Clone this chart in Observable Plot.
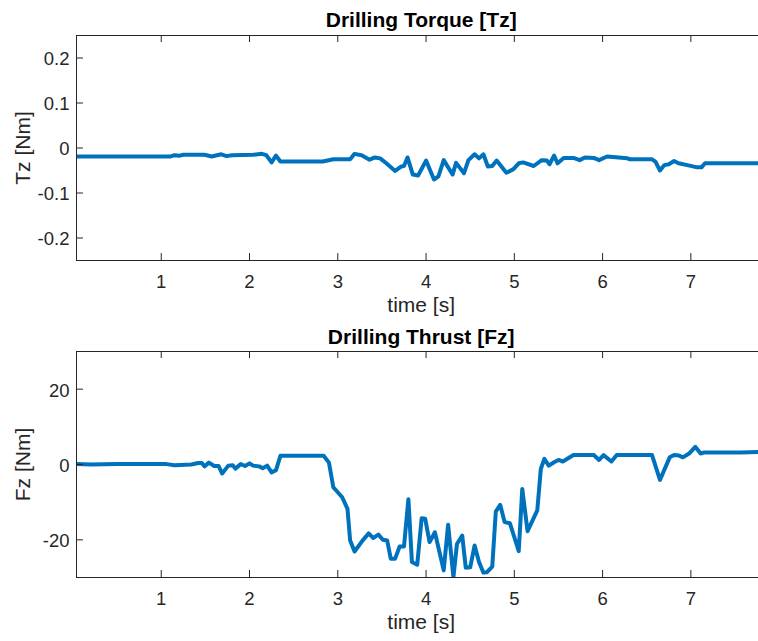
<!DOCTYPE html>
<html>
<head>
<meta charset="utf-8">
<script src="https://cdn.jsdelivr.net/npm/d3@7"></script>
<script src="https://cdn.jsdelivr.net/npm/@observablehq/plot@0.6"></script>
<style>
  html, body { margin: 0; padding: 0; background: #fff; overflow: hidden; width: 758px; height: 641px; }
  #chart { width: 766px; }
  #chart svg { display: block; max-width: none !important; }
</style>
</head>
<body>
<div id="chart"></div>
<script>
const torqueTitle = "Drilling Torque [Tz]";
const thrustTitle = "Drilling Thrust [Fz]";
const xLabel = "time [s]";
const torqueLabel = "Tz [Nm]";
const thrustLabel = "Fz [Nm]";

const xTicks = [1, 2, 3, 4, 5, 6, 7];
const xDomain = [0.04, 7.85];
const torqueTicks = [-0.2, -0.1, 0, 0.1, 0.2];
const torqueDomain = [-0.25, 0.25];
const thrustTicks = [-20, 0, 20];
const thrustDomain = [-30, 30];

const torqueTime = [0.04,1.10,1.15,1.21,1.25,1.49,1.57,1.68,1.74,1.80,2.04,2.14,2.19,2.25,2.30,2.35,2.83,2.95,3.14,3.19,3.27,3.36,3.42,3.48,3.55,3.65,3.72,3.75,3.79,3.85,3.91,4.00,4.09,4.14,4.20,4.30,4.34,4.43,4.48,4.55,4.60,4.65,4.70,4.75,4.80,4.91,4.99,5.05,5.10,5.22,5.31,5.37,5.40,5.45,5.49,5.56,5.67,5.74,5.80,5.90,5.96,6.05,6.28,6.31,6.56,6.60,6.65,6.70,6.75,6.81,6.86,6.96,7.07,7.12,7.16,7.85];
const torqueValues = [-0.019,-0.019,-0.016,-0.017,-0.015,-0.015,-0.019,-0.014,-0.018,-0.016,-0.015,-0.013,-0.016,-0.032,-0.017,-0.030,-0.030,-0.025,-0.025,-0.013,-0.016,-0.026,-0.021,-0.023,-0.034,-0.051,-0.041,-0.040,-0.021,-0.059,-0.061,-0.028,-0.070,-0.063,-0.027,-0.059,-0.033,-0.056,-0.027,-0.014,-0.023,-0.014,-0.041,-0.040,-0.028,-0.055,-0.047,-0.034,-0.032,-0.040,-0.027,-0.028,-0.036,-0.017,-0.034,-0.022,-0.022,-0.027,-0.021,-0.022,-0.027,-0.019,-0.023,-0.025,-0.025,-0.031,-0.050,-0.038,-0.036,-0.029,-0.034,-0.038,-0.043,-0.043,-0.034,-0.034];

const thrustTime = [0.04,0.20,0.50,1.06,1.15,1.34,1.42,1.46,1.49,1.54,1.60,1.65,1.69,1.76,1.81,1.84,1.90,1.95,2.00,2.04,2.11,2.15,2.20,2.25,2.30,2.35,2.84,2.90,2.95,2.99,3.05,3.11,3.14,3.19,3.28,3.35,3.40,3.46,3.51,3.56,3.60,3.65,3.70,3.75,3.80,3.84,3.90,3.95,3.99,4.04,4.10,4.20,4.25,4.31,4.35,4.41,4.45,4.50,4.55,4.60,4.65,4.69,4.75,4.79,4.84,4.89,4.95,5.05,5.09,5.15,5.26,5.30,5.34,5.39,5.45,5.50,5.55,5.67,5.90,5.96,6.01,6.10,6.16,6.56,6.65,6.76,6.81,6.86,6.91,6.98,7.05,7.11,7.15,7.56,7.85];
const thrustValues = [0.1,0.0,0.1,0.1,-0.2,0.0,0.4,0.4,-0.5,0.5,-0.4,-0.4,-2.4,-0.3,-0.2,-1.1,0.1,-0.4,0.3,-0.3,-0.5,-1.0,-0.3,-2.1,-1.5,2.3,2.3,0.5,-6.1,-7.1,-8.7,-11.8,-20.2,-23.1,-20.2,-18.3,-19.5,-18.6,-20.0,-20.2,-25.0,-25.0,-21.8,-21.8,-9.2,-25.9,-26.6,-14.3,-14.4,-20.6,-18.0,-28.1,-16.0,-29.9,-21.1,-18.9,-27.4,-27.3,-21.5,-25.9,-28.7,-28.6,-27.1,-12.5,-10.7,-15.3,-15.6,-23.0,-6.5,-17.7,-12.2,-1.2,1.5,-0.3,0.6,1.2,0.8,2.5,2.5,1.2,2.5,0.8,2.5,2.5,-4.1,1.9,2.5,2.4,1.9,2.9,4.7,2.9,3.2,3.2,3.4];

const lineColor = "#0072BD";
const axisColor = "#262626";
const fontFamily = "'Liberation Sans', Arial, Helvetica, sans-serif";
const fmt = d => String(d);

function panel({time, values, yTicks, yDomain, title, yLabel, height, marginTop, marginBottom, titleDy, xLabelDy}) {
  const width = 766, marginLeft = 76, marginRight = 0.6;
  const frameW = width - marginLeft - marginRight;
  const frameH = height - marginTop - marginBottom;
  const tickLen = 7;
  const data = time.map((t, i) => ({t, v: values[i]}));
  return Plot.plot({
    width, height, marginLeft, marginRight, marginTop, marginBottom,
    style: {fontFamily, fontSize: "18px", background: "white", color: axisColor, overflow: "visible", maxWidth: "none"},
    x: {domain: xDomain, label: null},
    y: {domain: yDomain, label: null},
    marks: [
      Plot.line(data, {x: "t", y: "v", stroke: lineColor, strokeWidth: 4, strokeLinejoin: "round", strokeLinecap: "round", clip: true}),
      Plot.ruleX(xTicks, {x: d => d, insetTop: frameH - tickLen, stroke: axisColor}),
      Plot.ruleX(xTicks, {x: d => d, insetBottom: frameH - tickLen, stroke: axisColor}),
      Plot.ruleY(yTicks, {y: d => d, insetRight: frameW - tickLen, stroke: axisColor}),
      Plot.ruleY(yTicks, {y: d => d, insetLeft: frameW - tickLen, stroke: axisColor}),
      Plot.frame({stroke: axisColor, strokeWidth: 1}),
      Plot.axisX({ticks: xTicks, tickSize: 0, tickPadding: 14, tickFormat: fmt, label: null, color: axisColor, fontSize: 18.5}),
      Plot.axisY({ticks: yTicks, tickSize: 0, tickPadding: 7, tickFormat: fmt, label: null, color: axisColor, fontSize: 18.5, dy: 1.5}),
      Plot.text([title], {text: d => d, frameAnchor: "top", lineAnchor: "bottom", dy: titleDy, fontWeight: "bold", fontSize: 21, fill: "#000"}),
      Plot.text([xLabel], {text: d => d, frameAnchor: "bottom", lineAnchor: "bottom", dy: xLabelDy, fontSize: 21, fill: axisColor}),
      Plot.text([yLabel], {text: d => d, frameAnchor: "left", lineAnchor: "bottom", textAnchor: "middle", rotate: -90, dx: -47, fontSize: 21, fill: axisColor})
    ]
  });
}

const chart = document.getElementById("chart");
chart.appendChild(panel({
  time: torqueTime, values: torqueValues, yTicks: torqueTicks, yDomain: torqueDomain,
  title: torqueTitle, yLabel: torqueLabel, height: 320, marginTop: 35, marginBottom: 60, titleDy: -8.5, xLabelDy: 51.5
}));
chart.appendChild(panel({
  time: thrustTime, values: thrustValues, yTicks: thrustTicks, yDomain: thrustDomain,
  title: thrustTitle, yLabel: thrustLabel, height: 321, marginTop: 31, marginBottom: 64, titleDy: -7.5, xLabelDy: 51.5
}));
</script>
</body>
</html>
